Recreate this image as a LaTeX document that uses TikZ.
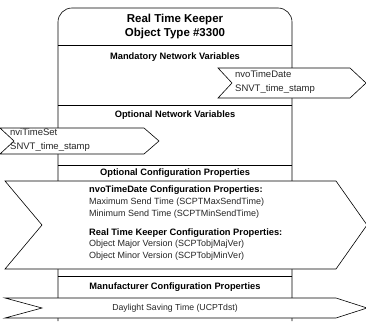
\documentclass[tikz,border=0pt]{standalone}
\usepackage{fontspec}
\setmainfont{Liberation Sans}
\begin{document}
\begin{tikzpicture}[x=1pt,y=-1pt,
  frame/.style={draw=black,line width=0.6pt},
  arrowbox/.style={draw=black,line width=0.6pt,fill=white},
  titletext/.style={font=\fontsize{11.5}{13.5}\selectfont\bfseries,align=center},
  headtext/.style={font=\fontsize{9.3}{10}\selectfont\bfseries},
  bodytext/.style={font=\fontsize{9}{11.7}\selectfont,text=black!85,align=left,anchor=north west,inner sep=0pt},
  boldline/.style={font=\fontsize{9.3}{11.7}\selectfont\bfseries},
  nvtext/.style={font=\fontsize{9.5}{14}\selectfont,text=black!85,align=left,anchor=west,inner sep=0pt}]
\useasboundingbox (0,0) rectangle (366,321);
% main frame
\draw[frame,rounded corners=14pt] (58,321) -- (58,8) -- (292,8) -- (292,321);
\draw[frame] (58,45) -- (292,45);
\draw[frame] (58,105) -- (292,105);
\draw[frame] (58,165) -- (292,165);
\draw[frame] (58,276) -- (292,276);
% nvoTimeDate arrow
\draw[arrowbox] (218,68) -- (350,68) -- (366,83) -- (350,98) -- (218,98) -- (232,83) -- cycle;
% nviTimeSet arrow
\draw[arrowbox] (0,128) -- (144,128) -- (159,141) -- (144,154) -- (0,154) -- (14,141) -- cycle;
% config properties arrow
\draw[arrowbox] (5,181) -- (336,181) -- (367,225) -- (336,269) -- (5,269) -- (42,225) -- cycle;
% manufacturer arrow
\draw[arrowbox] (5,298) -- (336,298) -- (367,308) -- (336,318) -- (5,318) -- (42,308) -- cycle;
% texts
\node[titletext] (title) at (175,26.5) {Real Time Keeper\\Object Type \#3300};
\node[headtext] (mand) at (175,57) {Mandatory Network Variables};
\node[nvtext] (nvo) at (235,82.5) {nvoTimeDate\\SNVT\_time\_stamp};
\node[headtext] (opt) at (175,115) {Optional Network Variables};
\node[nvtext] (nvi) at (10,140.5) {nviTimeSet\\SNVT\_time\_stamp};
\node[headtext] (optcp) at (175,173) {Optional Configuration Properties};
\node[bodytext] (cp) at (89,186) {{\color{black}\fontsize{9.3}{11.7}\selectfont\bfseries nvoTimeDate Configuration Properties:}\\
Maximum Send Time (SCPTMaxSendTime)\\
Minimum Send Time (SCPTMinSendTime)\\[7pt]
{\color{black}\fontsize{9.3}{11.7}\selectfont\bfseries Real Time Keeper Configuration Properties:}\\
Object Major Version (SCPTobjMajVer)\\
Object Minor Version (SCPTobjMinVer)};
\node[headtext] (mfr) at (175,287) {Manufacturer Configuration Properties};
\node[font=\fontsize{8.7}{9}\selectfont,text=black!85] (dst) at (175,308) {Daylight Saving Time (UCPTdst)};
\end{tikzpicture}
\end{document}
